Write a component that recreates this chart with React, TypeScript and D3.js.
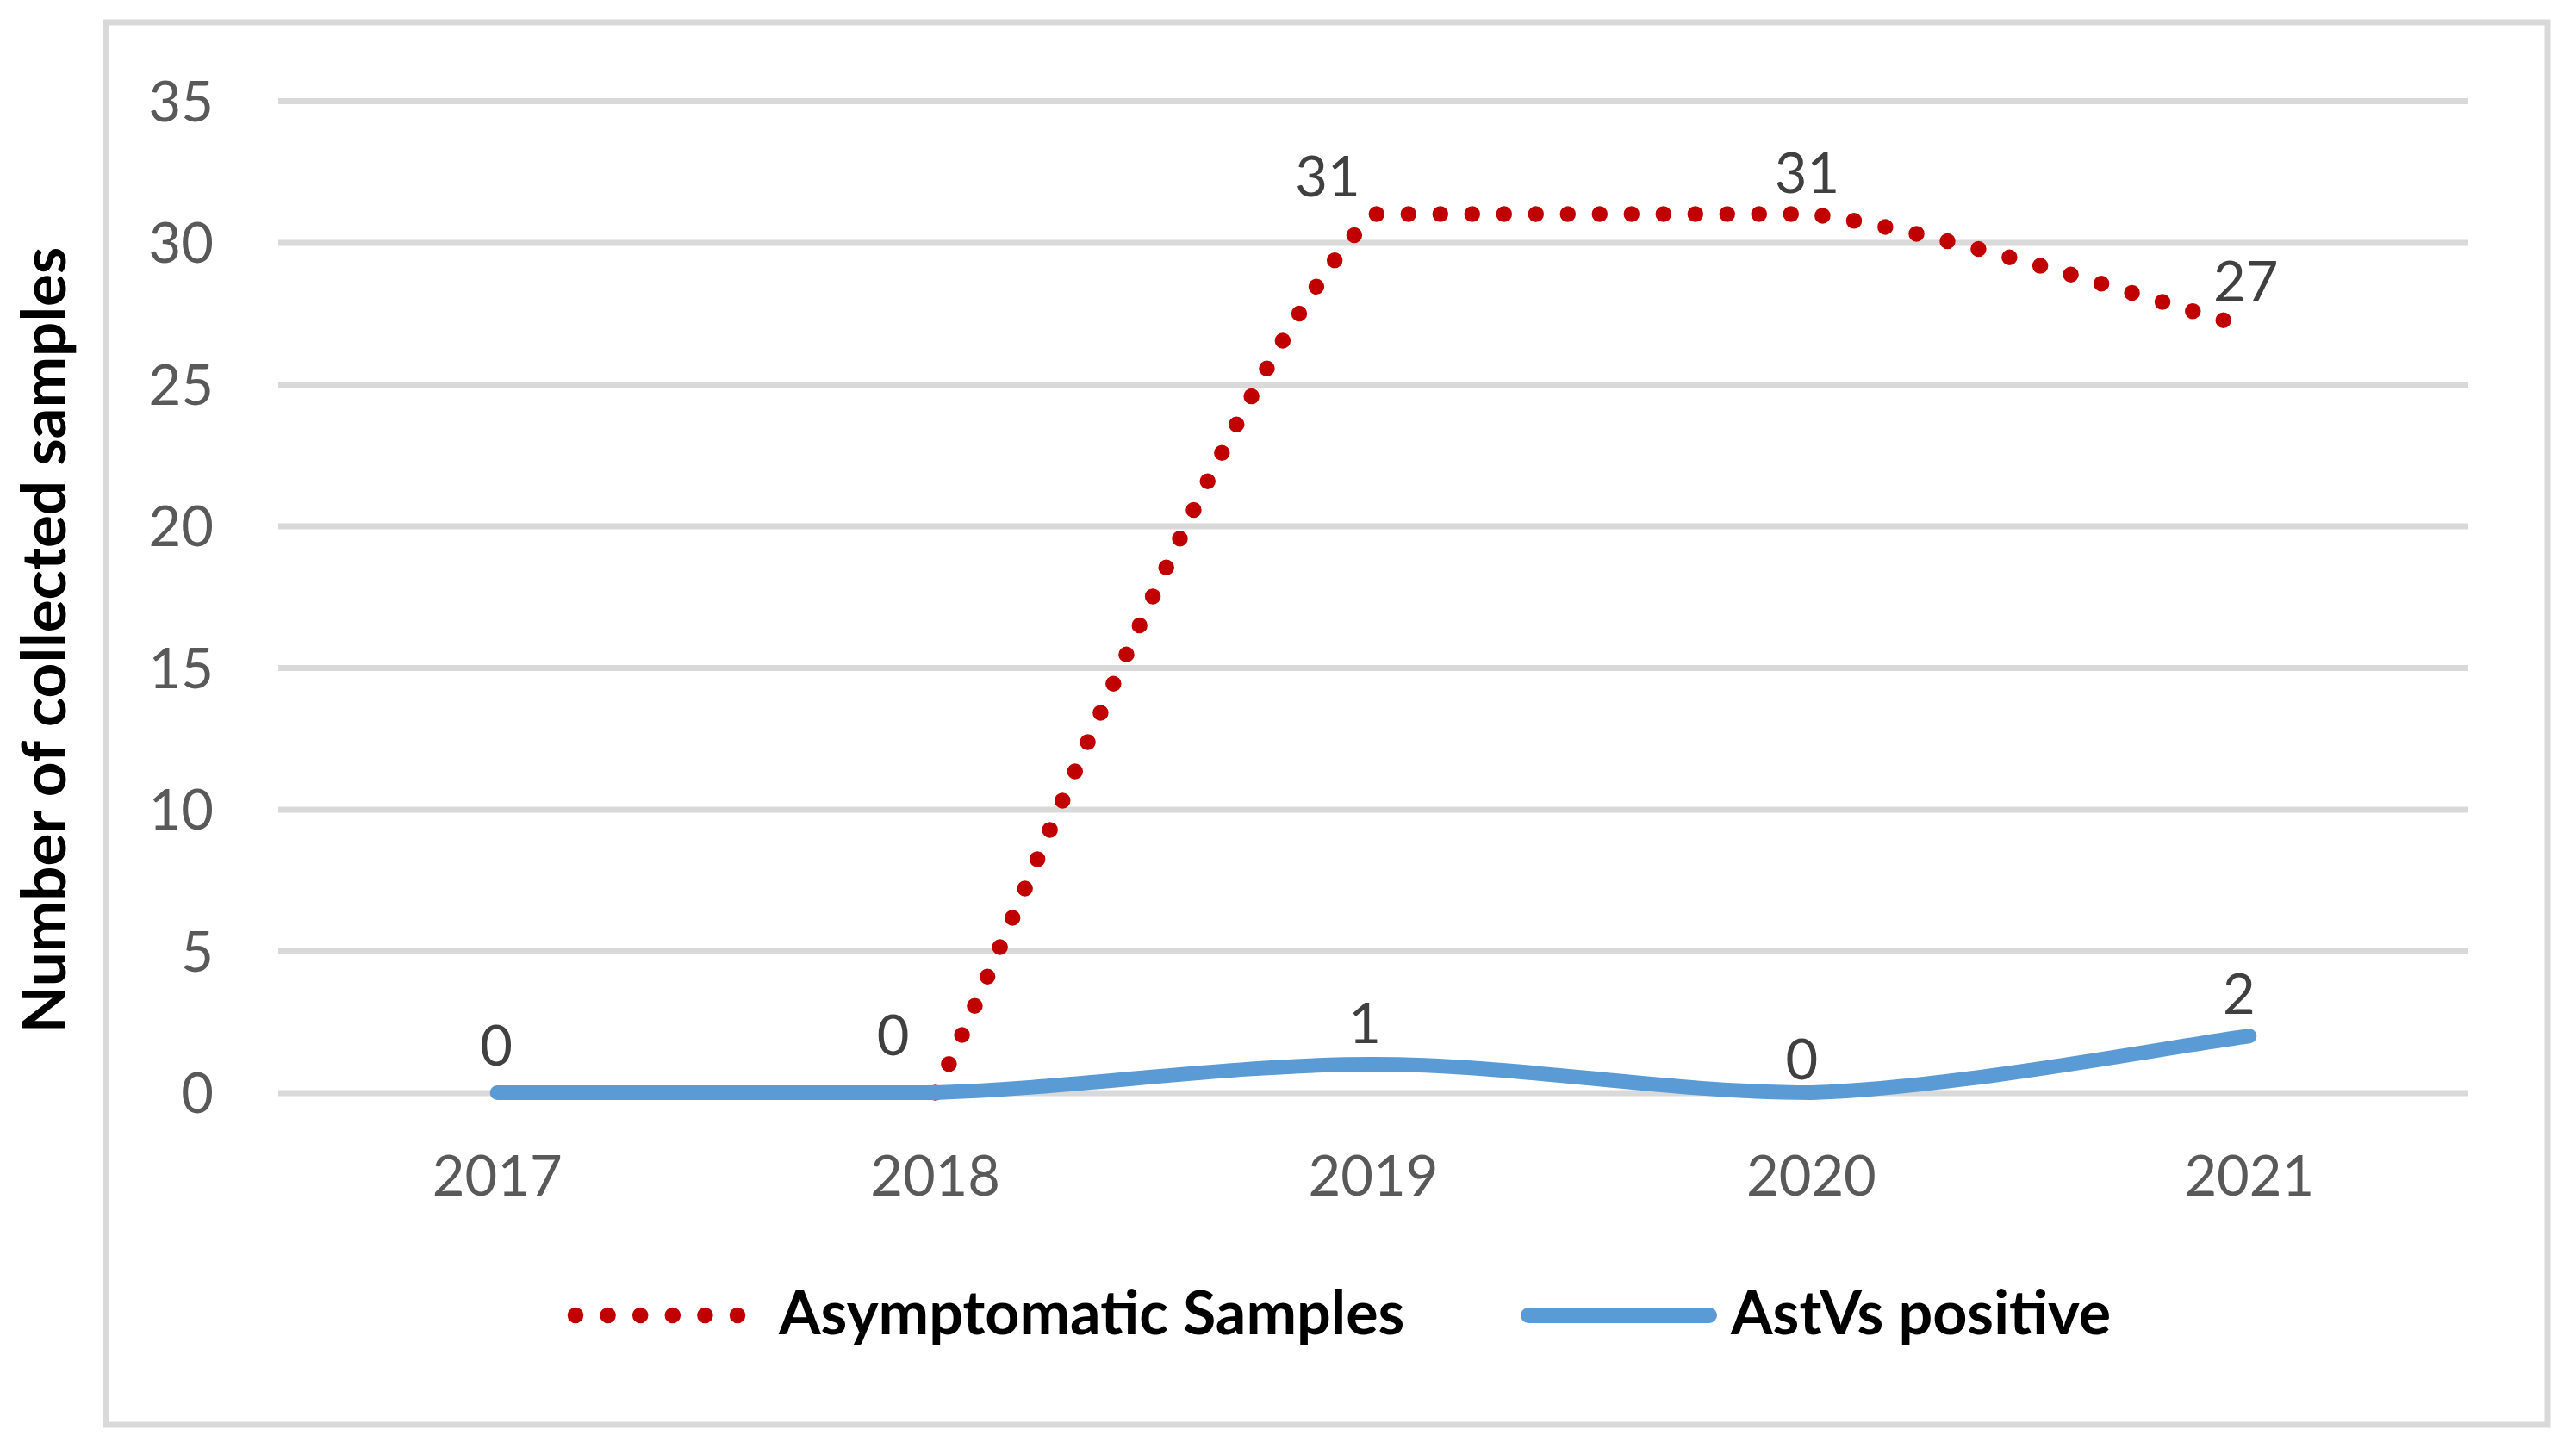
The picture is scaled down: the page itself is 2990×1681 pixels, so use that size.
import { useEffect, useRef } from 'react';
import * as d3 from 'd3';

// chart data
const years = ['2017', '2018', '2019', '2020', '2021'];
const asymptomatic: (number | null)[] = [null, 0, 31, 31, 27];
const astvPositive: number[] = [0, 0, 1, 0, 2];
const yTicks = [0, 5, 10, 15, 20, 25, 30, 35];
const seriesNames = ['Asymptomatic Samples', 'AstVs positive'];

const W = 2990;
const H = 1681;
const FONT = 'Lato, "Open Sans", sans-serif';

// manual label nudges (dx, baseline offset above point), like dragged Excel labels
const redLabelNudge: ([number, number] | null)[] = [null, [-49, 44], [-53, 21], [-5, 25], [-4, 30]];
const blueLabelNudge: ([number, number] | null)[] = [[-1, 32], null, [-10, 25], [-11, 16], [-12, 26]];

// Excel-like smoothed line: cardinal tangents (1/6), control points clamped to each segment's y range
function smoothPath(pts: [number, number][]) {
    if (pts.length < 2) return '';
    const tan = pts.map((p, k) => {
        const a = pts[Math.max(0, k - 1)];
        const b = pts[Math.min(pts.length - 1, k + 1)];
        return [(b[0] - a[0]) / 6, (b[1] - a[1]) / 6];
    });
    const path = d3.path();
    path.moveTo(pts[0][0], pts[0][1]);
    for (let k = 0; k < pts.length - 1; k++) {
        const p0 = pts[k];
        const p1 = pts[k + 1];
        const lo = Math.min(p0[1], p1[1]);
        const hi = Math.max(p0[1], p1[1]);
        const clamp = (v: number) => Math.max(lo, Math.min(hi, v));
        path.bezierCurveTo(
            p0[0] + tan[k][0], clamp(p0[1] + tan[k][1]),
            p1[0] - tan[k + 1][0], clamp(p1[1] - tan[k + 1][1]),
            p1[0], p1[1]
        );
    }
    return path.toString();
}

export default function App() {
    const svgRef = useRef<SVGSVGElement>(null);

    useEffect(() => {
        if (!svgRef.current) return;
        document.body.style.margin = '0';
        const svg = d3.select(svgRef.current);
        svg.selectAll('*').remove();

        const plot = { left: 323, right: 2865, top: 117, bottom: 1268.5 };

        const x = d3.scaleBand().domain(years).range([plot.left, plot.right]).padding(0);
        const cx = (d: string) => (x(d) || 0) + x.bandwidth() / 2;
        const y = d3.scaleLinear().domain([0, 35]).range([plot.bottom, plot.top]);

        svg.append('rect')
            .attr('width', W).attr('height', H).attr('fill', '#fff');

        // outer chart border
        svg.append('rect')
            .attr('x', 123).attr('y', 26)
            .attr('width', 2834).attr('height', 1628)
            .attr('fill', 'none')
            .attr('stroke', '#d9d9d9')
            .attr('stroke-width', 7);

        // gridlines + y labels
        const yAxis = svg.append('g')
            .attr('transform', `translate(${plot.left},0)`)
            .call(d3.axisLeft(y).tickValues(yTicks).tickSizeInner(-(plot.right - plot.left)).tickSizeOuter(0).tickPadding(75));
        yAxis.select('.domain').remove();
        yAxis.selectAll('line').attr('stroke', '#d9d9d9').attr('stroke-width', 7);
        yAxis.selectAll('text')
            .attr('fill', '#595959')
            .attr('font-family', FONT)
            .attr('font-size', 65)
            .attr('dy', '0.36em');

        // x labels
        svg.append('g').selectAll('text')
            .data(years)
            .enter()
            .append('text')
            .attr('x', d => cx(d))
            .attr('y', 1388)
            .attr('text-anchor', 'middle')
            .attr('fill', '#595959')
            .attr('font-family', FONT)
            .attr('font-size', 65)
            .text(d => d);

        // y axis title
        svg.append('text')
            .attr('transform', `translate(76,743) rotate(-90)`)
            .attr('text-anchor', 'middle')
            .attr('font-family', FONT)
            .attr('font-weight', 700)
            .attr('font-size', 71)
            .attr('fill', '#000')
            .text('Number of collected samples');

        const toPts = (vals: (number | null)[]) =>
            vals
                .map((v, i) => (v === null ? null : ([cx(years[i]), y(v)] as [number, number])))
                .filter((p): p is [number, number] => p !== null);

        // red dotted series
        svg.append('path')
            .attr('d', smoothPath(toPts(asymptomatic)))
            .attr('fill', 'none')
            .attr('stroke', '#c00000')
            .attr('stroke-width', 18.5)
            .attr('stroke-linecap', 'round')
            .attr('stroke-dasharray', '0 37');

        // blue series
        svg.append('path')
            .attr('d', smoothPath(toPts(astvPositive)))
            .attr('fill', 'none')
            .attr('stroke', '#5b9bd5')
            .attr('stroke-width', 17)
            .attr('stroke-linecap', 'round')
            .attr('stroke-linejoin', 'round');

        // data labels
        const labels = svg.append('g')
            .attr('font-family', FONT)
            .attr('font-size', 65)
            .attr('fill', '#404040')
            .attr('text-anchor', 'middle');

        const addLabels = (vals: (number | null)[], nudges: ([number, number] | null)[]) => {
            vals.forEach((v, i) => {
                const n = nudges[i];
                if (v === null || !n) return;
                labels.append('text')
                    .attr('x', cx(years[i]) + n[0])
                    .attr('y', y(v) - n[1])
                    .text(v);
            });
        };
        addLabels(asymptomatic, redLabelNudge);
        addLabels(astvPositive, blueLabelNudge);

        // legend
        const legend = svg.append('g');
        legend.append('line')
            .attr('x1', 668).attr('x2', 856)
            .attr('y1', 1527).attr('y2', 1527)
            .attr('stroke', '#c00000')
            .attr('stroke-width', 18.5)
            .attr('stroke-linecap', 'round')
            .attr('stroke-dasharray', '0 37.6');
        legend.append('text')
            .attr('x', 904).attr('y', 1549)
            .attr('font-family', FONT)
            .attr('font-weight', 700)
            .attr('font-size', 70)
            .attr('fill', '#000')
            .text(seriesNames[0]);
        legend.append('line')
            .attr('x1', 1774).attr('x2', 1984)
            .attr('y1', 1527).attr('y2', 1527)
            .attr('stroke', '#5b9bd5')
            .attr('stroke-width', 18)
            .attr('stroke-linecap', 'round');
        legend.append('text')
            .attr('x', 2009).attr('y', 1549)
            .attr('font-family', FONT)
            .attr('font-weight', 700)
            .attr('font-size', 70)
            .attr('fill', '#000')
            .text(seriesNames[1]);
    }, []);

    return (
        <svg
            ref={svgRef}
            width={W}
            height={H}
            style={{ position: 'absolute', left: 0, top: 0, display: 'block' }}
        />
    );
}
